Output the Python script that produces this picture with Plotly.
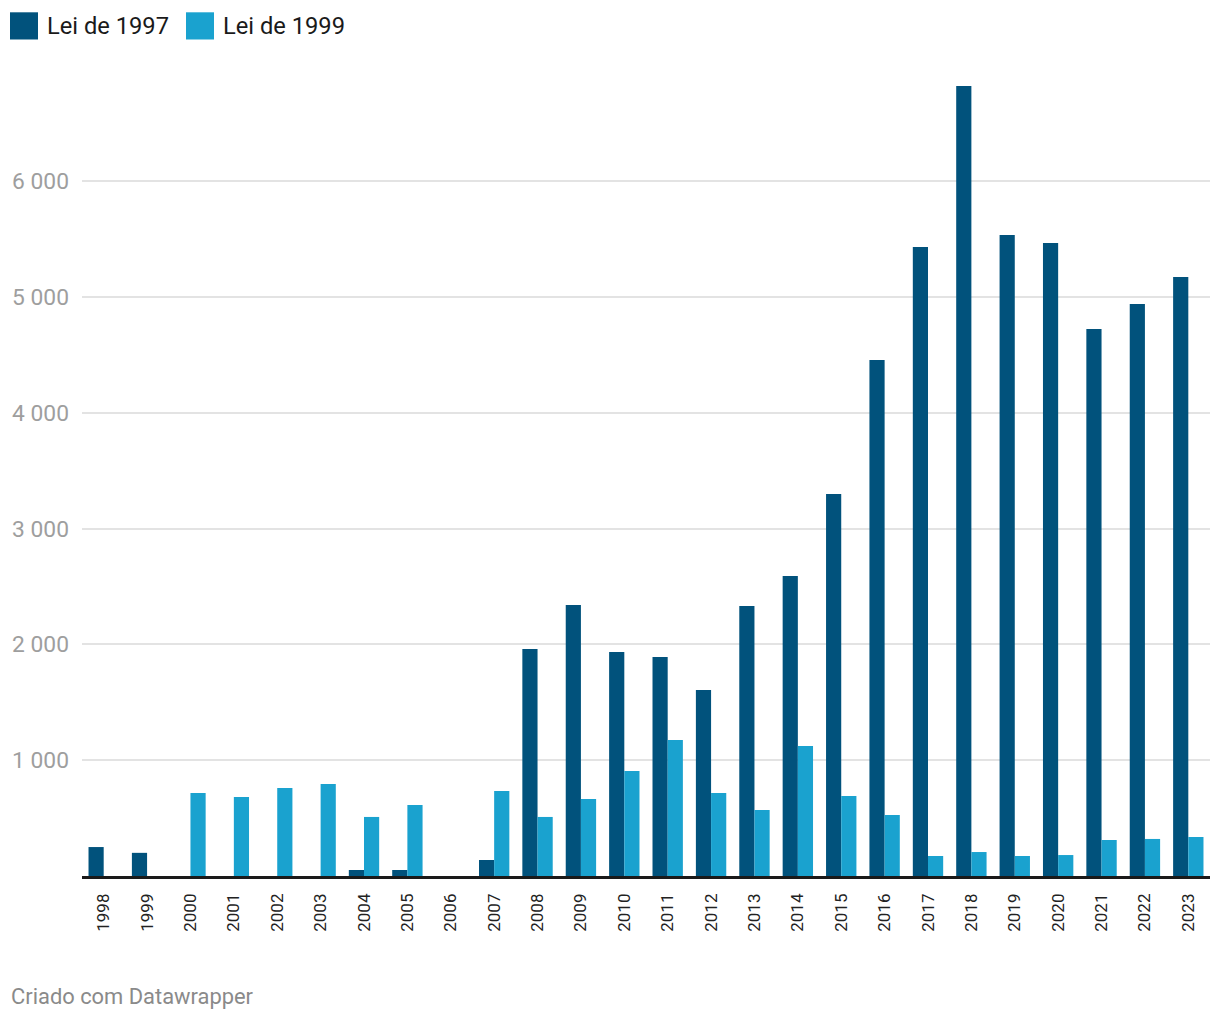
import plotly.graph_objects as go

years = [str(y) for y in range(1998, 2024)]
lei_1997 = [250, 200, 0, 0, 0, 0, 52, 52, 0, 138, 1960, 2340, 1934, 1891, 1606, 2332,
            2591, 3299, 4456, 5432, 6822, 5535, 5466, 4724, 4940, 5173]
lei_1999 = [0, 0, 717, 682, 760, 795, 510, 613, 0, 734, 510, 665, 907, 1174, 717, 570,
            1123, 691, 527, 173, 207, 173, 181, 311, 320, 337]
y_ticks = [1000, 2000, 3000, 4000, 5000, 6000]

DARK = "#01527c"
LIGHT = "#1aa2cf"

OFFX, OFFY = 8, 8  # page body margin
W, H = 1212, 1012
L, R, T, B = 82 - OFFX, W - (1210 - OFFX), 60 - OFFY, H - (876 - OFFY)
pw, ph = W - L - R, H - T - B

def px(x):
    return (x - OFFX - L) / pw

def py(y):
    return (H - B - (y - OFFY)) / ph

fig = go.Figure()
fig.add_bar(x=years, y=lei_1997, name="Lei de 1997", marker_color=DARK, marker_line_width=0)
fig.add_bar(x=years, y=lei_1999, name="Lei de 1999", marker_color=LIGHT, marker_line_width=0)

fig.update_layout(
    width=W, height=H,
    margin=dict(l=L, r=R, t=T, b=B, autoexpand=False),
    barmode="group", bargap=0.3, bargroupgap=0,
    plot_bgcolor="white", paper_bgcolor="white",
    showlegend=False,
    separators=", ",
    font=dict(family="Roboto, sans-serif"),
)
fig.update_yaxes(
    range=[0, 7047], tickvals=y_ticks, tickformat=",d", automargin=False,
    showgrid=True, gridcolor="#e3e3e3", gridwidth=1.5, zeroline=False, showline=False,
    tickfont=dict(size=22.8, color="#9e9e9e"), ticks="", ticklabelstandoff=12,
)
fig.update_xaxes(
    type="category", tickangle=-90, showgrid=False, showline=True, linecolor="#1a1a1a",
    linewidth=2.5, ticks="", tickfont=dict(size=17, color="#222222"), ticklabelstandoff=8,
    automargin=False,
)

# custom legend
for x0, label, color in [(10, "Lei de 1997", DARK), (186, "Lei de 1999", LIGHT)]:
    fig.add_shape(type="rect", xref="paper", yref="paper",
                  x0=px(x0), x1=px(x0 + 28), y0=py(39.5), y1=py(12.3),
                  fillcolor=color, line_width=0)
    fig.add_annotation(xref="paper", yref="paper", x=px(x0 + 35), y=py(26),
                       text=label, showarrow=False, xanchor="left", yanchor="middle",
                       font=dict(size=23.7, color="#1a1a1a"))

fig.add_annotation(xref="paper", yref="paper", x=px(9), y=py(997),
                   text="Criado com Datawrapper", showarrow=False,
                   xanchor="left", yanchor="middle",
                   font=dict(size=21.9, color="#8a8a8a"))

fig.write_html("out.html")
